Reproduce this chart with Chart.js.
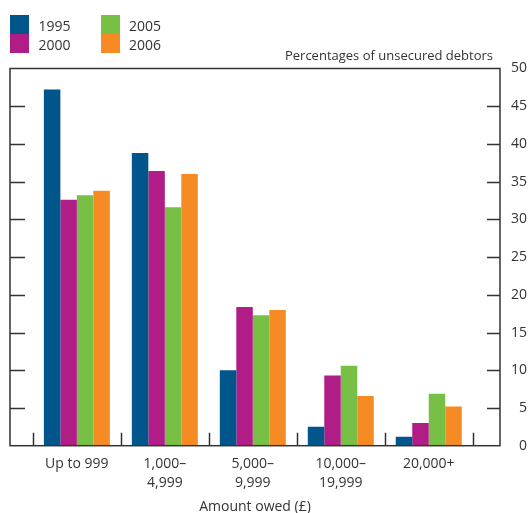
<!DOCTYPE html>
<html>
<head>
<meta charset="utf-8">
<script src="https://cdn.jsdelivr.net/npm/chart.js@4/dist/chart.umd.min.js"></script>
<style>
  html, body { margin: 0; padding: 0; background: #fff; }
  #wrap { position: relative; width: 530px; height: 513px; font-family: "Open Sans", sans-serif; color: #333; }
  #chart { position: absolute; left: 0; top: 0; }
  .key { position: absolute; width: 19px; height: 19px; }
  .keytxt { position: absolute; font-size: 14px; line-height: 19px; }
  #unit { position: absolute; right: 37px; top: 45px; font-size: 13px; line-height: 20px; white-space: nowrap; }
</style>
</head>
<body>
<div id="wrap">
  <canvas id="chart" width="530" height="513"></canvas>
  <div id="legend"></div>
  <div id="unit">Percentages of unsecured debtors</div>
</div>
<script>
// Amount owed bands (each entry is the lines of its axis label)
const categories = [['Up to 999'], ['1,000–', '4,999'], ['5,000–', '9,999'], ['10,000–', '19,999'], ['20,000+']];
const seriesNames = ['1995', '2000', '2005', '2006'];
const seriesColors = ['#00558b', '#b01d87', '#77bf45', '#f58b22'];

// Percentages of unsecured debtors in each band
const values1995 = [47.2, 38.8, 10.0, 2.5, 1.2];
const values2000 = [32.6, 36.4, 18.4, 9.3, 3.0];
const values2005 = [33.2, 31.6, 17.3, 10.6, 6.9];
const values2006 = [33.8, 36.0, 18.0, 6.6, 5.2];

const yTicks = [0, 5, 10, 15, 20, 25, 30, 35, 40, 45, 50];

const allValues = [values1995, values2000, values2005, values2006];
const ink = '#333333';

const datasets = allValues.map((vals, k) => ({
  label: seriesNames[k],
  backgroundColor: seriesColors[k],
  borderWidth: 0,
  data: vals.map((v, i) => ({ x: i, y: v })),
  categoryPercentage: 0.75,
  barPercentage: 1.0
}));

// Legend: two columns, colour keys stacked without gaps
const legend = document.getElementById('legend');
seriesNames.forEach((name, k) => {
  const col = Math.floor(k / 2), row = k % 2;
  const box = document.createElement('div');
  box.className = 'key';
  box.style.left = (10 + col * 90.5) + 'px';
  box.style.top = (15 + row * 19) + 'px';
  box.style.background = seriesColors[k];
  legend.appendChild(box);
  const txt = document.createElement('div');
  txt.className = 'keytxt';
  txt.textContent = name;
  txt.style.left = (38.5 + col * 90.5) + 'px';
  txt.style.top = (15.5 + row * 19) + 'px';
  legend.appendChild(txt);
});

// Frame around the plot, inward tick marks on both sides and band separators
const framePlugin = {
  id: 'frame',
  afterDatasetsDraw(chart) {
    const { ctx, chartArea: { left, right, top, bottom }, scales: { x, y } } = chart;
    ctx.save();
    ctx.strokeStyle = ink;
    ctx.lineWidth = 1.5;
    ctx.strokeRect(left, top, right - left, bottom - top);
    ctx.beginPath();
    yTicks.forEach(t => {
      if (t === 0 || t === 50) return;
      const py = Math.round(y.getPixelForValue(t)) + 0.5;
      ctx.moveTo(left, py); ctx.lineTo(left + 15, py);
      ctx.moveTo(right - 13, py); ctx.lineTo(right, py);
    });
    for (let i = 0; i <= categories.length; i++) {
      const px = Math.round(x.getPixelForValue(i - 0.5)) + 0.5;
      ctx.moveTo(px, bottom); ctx.lineTo(px, bottom - 13);
    }
    ctx.stroke();
    ctx.restore();
  }
};

new Chart(document.getElementById('chart'), {
  type: 'bar',
  data: { datasets },
  options: {
    responsive: false,
    animation: false,
    layout: { padding: { left: 10, right: 3, top: 68.5, bottom: 0 } },
    plugins: { legend: { display: false }, tooltip: { enabled: false } },
    scales: {
      x: {
        type: 'linear',
        offset: false,
        min: -0.76,
        max: 4.81,
        grid: { display: false, drawTicks: false },
        border: { display: false },
        afterBuildTicks: s => { s.ticks = categories.map((_, i) => ({ value: i })); },
        afterFit: s => { s.height = 67.3; },
        ticks: {
          autoSkip: false,
          maxRotation: 0,
          padding: 9,
          color: ink,
          font: { family: 'Open Sans', size: 14, lineHeight: 1.36 },
          callback: v => categories[v]
        },
        title: {
          display: true,
          text: 'Amount owed (£)',
          color: ink,
          font: { family: 'Open Sans', size: 14, lineHeight: 0.86 },
          padding: { top: 0, bottom: 0 }
        }
      },
      y: {
        position: 'right',
        min: 0,
        max: 50,
        grid: { display: false, drawTicks: false },
        border: { display: false },
        afterBuildTicks: s => { s.ticks = yTicks.map(v => ({ value: v })); },
        afterFit: s => { s.width = 27; },
        ticks: {
          padding: 7,
          crossAlign: 'far',
          color: ink,
          font: { family: 'Open Sans', size: 14 }
        }
      }
    }
  },
  plugins: [framePlugin]
});
</script>
</body>
</html>
